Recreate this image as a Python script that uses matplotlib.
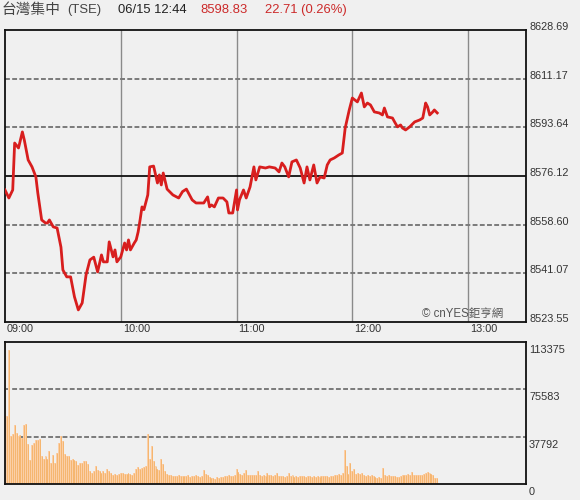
import matplotlib
matplotlib.use("Agg")
import matplotlib.pyplot as plt
import matplotlib.transforms as mtransforms

plt.rcParams['font.family'] = ['Liberation Sans', 'Noto Sans CJK TC', 'DejaVu Sans']

# ---------------- data ----------------
price_minutes = [0, 2, 4, 5, 7, 9, 10, 12, 14, 16, 17, 19, 21, 22, 23, 25, 27, 29, 30, 32,
                 34, 36, 38, 40, 42, 44, 46, 48, 50, 51, 53, 54, 56, 57, 58, 60, 62, 63, 64, 65,
                 67, 68, 69, 70, 71, 72, 74, 75, 77, 79, 80, 81, 82, 84, 87, 90, 92, 94, 97, 99,
                 103, 105, 106, 107, 108.5, 110.6, 113, 115, 116, 118, 120, 120.5, 121.5, 123.6, 125, 127, 129, 130, 132, 135,
                 137, 140, 142, 143.5, 145, 147, 148.7, 151, 153, 155, 156.5, 158, 160, 161.7, 163.3, 165.4, 167, 168.5, 170.6, 173,
                 174.8, 176.3, 178.4, 180, 182.6, 184.7, 186.2, 187.8, 189.4, 191.4, 194, 195.6, 196.6, 198.2, 200.8, 201.9, 203.4, 205, 206, 207.6,
                 209.7, 212.3, 214.9, 216.5, 218, 219, 220.1, 221.7, 222.5, 224]
price_values = [8571.1, 8568.2, 8571.1, 8588.0, 8586.2, 8592.0, 8589.1, 8581.9, 8579.4, 8575.8, 8570.0, 8560.3, 8559.2, 8559.2, 8560.3, 8557.8, 8557.4, 8550.5, 8542.3, 8539.8,
                8539.8, 8532.6, 8527.9, 8530.4, 8540.5, 8545.9, 8546.9, 8541.6, 8547.7, 8545.2, 8545.2, 8552.4, 8547.0, 8549.5, 8545.2, 8547.0, 8552.0, 8549.5, 8553.1, 8549.5,
                8552.0, 8553.1, 8556.0, 8560.3, 8565.0, 8564.0, 8569.3, 8579.4, 8579.7, 8573.6, 8576.5, 8572.9, 8577.2, 8571.4, 8569.3, 8568.2, 8570.5, 8571.4, 8567.5, 8566.4,
                8566.4, 8568.6, 8565.0, 8565.7, 8565.0, 8568.2, 8568.2, 8566.8, 8562.8, 8562.8, 8571.1, 8563.9, 8567.5, 8571.1, 8568.2, 8572.2, 8579.4, 8574.7, 8579.4, 8579.0,
                8579.4, 8579.0, 8577.6, 8580.8, 8579.4, 8575.8, 8581.2, 8581.9, 8579.0, 8573.6, 8579.4, 8574.7, 8580.1, 8573.6, 8575.8, 8575.4, 8580.1, 8581.9, 8582.6, 8583.7,
                8584.4, 8593.4, 8599.9, 8604.2, 8602.8, 8606.0, 8601.0, 8602.4, 8601.7, 8599.2, 8598.8, 8598.1, 8600.6, 8597.4, 8597.0, 8595.6, 8593.8, 8594.5, 8593.4, 8592.7,
                8593.8, 8595.6, 8596.3, 8597.0, 8602.4, 8601.0, 8598.1, 8599.2, 8599.9, 8598.83]

volume = [113375, 54000, 107000, 38000, 40000, 47000, 41000, 38000, 39000, 37000,
          47000, 48000, 32000, 19000, 31000, 33000, 35000, 35000, 36000, 22000,
          20000, 22000, 20000, 26000, 17000, 23000, 17000, 25000, 33000, 38000,
          34000, 24000, 22000, 22000, 19000, 20000, 19000, 18000, 15000, 17000,
          17000, 18000, 18000, 16000, 10000, 9000, 10000, 14000, 11000, 10000,
          8500, 10000, 9000, 12000, 10000, 8500, 7500, 8000, 7500, 8000,
          9000, 8500, 8000, 8000, 9000, 7800, 7500, 8500, 12000, 13800,
          12000, 13000, 13800, 14000, 40000, 20000, 30000, 18000, 14000, 12000,
          11000, 20000, 16000, 10000, 7800, 7000, 7500, 6500, 6500, 6200,
          7000, 6000, 6500, 6000, 6500, 7000, 5800, 6500, 6000, 7000,
          6500, 5800, 6000, 11500, 8000, 7000, 5500, 4500, 5000, 4000,
          5200, 4600, 5800, 5200, 6500, 6000, 6800, 6200, 6000, 7500,
          12000, 9500, 8000, 7000, 9000, 11000, 7500, 7000, 7200, 6800,
          7000, 10500, 7000, 6500, 7000, 6000, 9000, 7500, 6800, 6000,
          7500, 8500, 6500, 6000, 6500, 5500, 6500, 9000, 6500, 7500,
          5500, 6500, 5800, 6000, 6000, 6200, 5800, 6000, 6000, 5500,
          6000, 5800, 6200, 5800, 6000, 6500, 6000, 6200, 5800, 6500,
          6500, 7000, 7500, 8000, 7000, 9000, 27000, 14000, 8000, 17000,
          10000, 12000, 8000, 9000, 8000, 9000, 7500, 6500, 7500, 6500,
          7200, 6000, 5500, 4800, 5500, 5000, 13000, 7000, 6500, 7000,
          6000, 6500, 6200, 5500, 5800, 6500, 7000, 7500, 6800, 7800,
          7000, 9500, 7500, 7000, 7500, 6800, 7200, 8000, 9000, 9500,
          9000, 8000, 7500, 5000, 4500]

prev_close = 8576.12
price_ticks = [8523.55, 8541.07, 8558.60, 8576.12, 8593.64, 8611.17, 8628.69]
vol_ticks = [0, 37792, 75583, 113375]
time_ticks = [0, 60, 120, 180, 240]
time_labels = ["09:00", "10:00", "11:00", "12:00", "13:00"]
title_name = "台灣集中"
title_code = "(TSE)"
title_time = "06/15 12:44"
title_last = "8598.83"
title_change = "22.71 (0.26%)"

# ---------------- figure ----------------
BG = '#f0f0f0'
W, H = 580, 500
fig = plt.figure(figsize=(W / 100, H / 100), dpi=100, facecolor=BG)

def rect(x0, y0, x1, y1):
    return [x0 / W, 1 - y1 / H, (x1 - x0) / W, (y1 - y0) / H]

ax = fig.add_axes(rect(5, 30, 526, 322))
axv = fig.add_axes(rect(5, 342, 526, 484))

for a in (ax, axv):
    a.set_facecolor(BG)
    a.set_xlim(0, 270)
    a.set_xticks([])
    a.set_yticks([])
    for s in a.spines.values():
        s.set_color('#111111')
        s.set_linewidth(1.3)

ax.set_ylim(price_ticks[0], price_ticks[-1])
axv.set_ylim(0, vol_ticks[-1])

dash = (0, (2.5, 1.2))
# price panel grid
for t in time_ticks[1:]:
    ax.axvline(t, color='#8a8a8a', lw=1.0, zorder=1)
for p in price_ticks[1:-1]:
    if abs(p - prev_close) < 1e-6:
        ax.axhline(p, color='#111111', lw=1.3, zorder=2)
    else:
        ax.axhline(p, color='#7a7a7a', lw=1.4, ls=dash, zorder=1)

ax.plot(price_minutes, price_values, color='#d81e1e', lw=2.0, zorder=3,
        solid_joinstyle='round')

# volume panel
for v in vol_ticks[1:-1]:
    axv.axhline(v, color='#7a7a7a', lw=1.4, ls=dash, zorder=1)
vx = list(range(len(volume)))
axv.bar(vx, volume, width=1.0, color='#fbcfa8', edgecolor='none', zorder=2)
axv.vlines(vx, 0, volume, color='#f2a850', lw=0.45, zorder=2)

# right-side labels
off = mtransforms.ScaledTranslation(3 / 100, 0, fig.dpi_scale_trans)
trp = mtransforms.blended_transform_factory(ax.transAxes, ax.transData) + off
for p in price_ticks:
    ax.text(1.0, p, f"{p:.2f}", transform=trp, ha='left', va='baseline',
            fontsize=7.8, color='#333333', clip_on=False)
offv = mtransforms.ScaledTranslation(3 / 100, -3 / 100, fig.dpi_scale_trans)
trv = mtransforms.blended_transform_factory(axv.transAxes, axv.transData) + offv
for v in vol_ticks:
    axv.text(1.0, v, f"{v}", transform=trv, ha='left', va='top',
             fontsize=7.8, color='#333333', clip_on=False)

# time labels
trt = mtransforms.blended_transform_factory(ax.transData, fig.transFigure)
for t, lab in zip(time_ticks, time_labels):
    ax.text(t + 1.0, 1 - 324 / H, lab, transform=trt, ha='left', va='top',
            fontsize=7.8, color='#333333', clip_on=False)

# watermark
fig.text(422 / W, 1 - 320 / H, "© cnYES鉅亨網", ha='left', va='bottom',
         fontsize=8.3, color='#555555')

# title row
ty = 1 - 10 / H
fig.text(2 / W, ty, title_name, ha='left', va='center', fontsize=10.6, color='#444444')
fig.text(67 / W, ty, title_code, ha='left', va='center', fontsize=9.4, color='#444444')
fig.text(118 / W, ty, title_time, ha='left', va='center', fontsize=9.4, color='#222222')
fig.text(200 / W, ty, title_last, ha='left', va='center', fontsize=9.4, color='#cc2a2a')
fig.text(265 / W, ty, title_change, ha='left', va='center', fontsize=9.4, color='#cc2a2a')

fig.savefig('out.png', dpi=100, facecolor=BG)
